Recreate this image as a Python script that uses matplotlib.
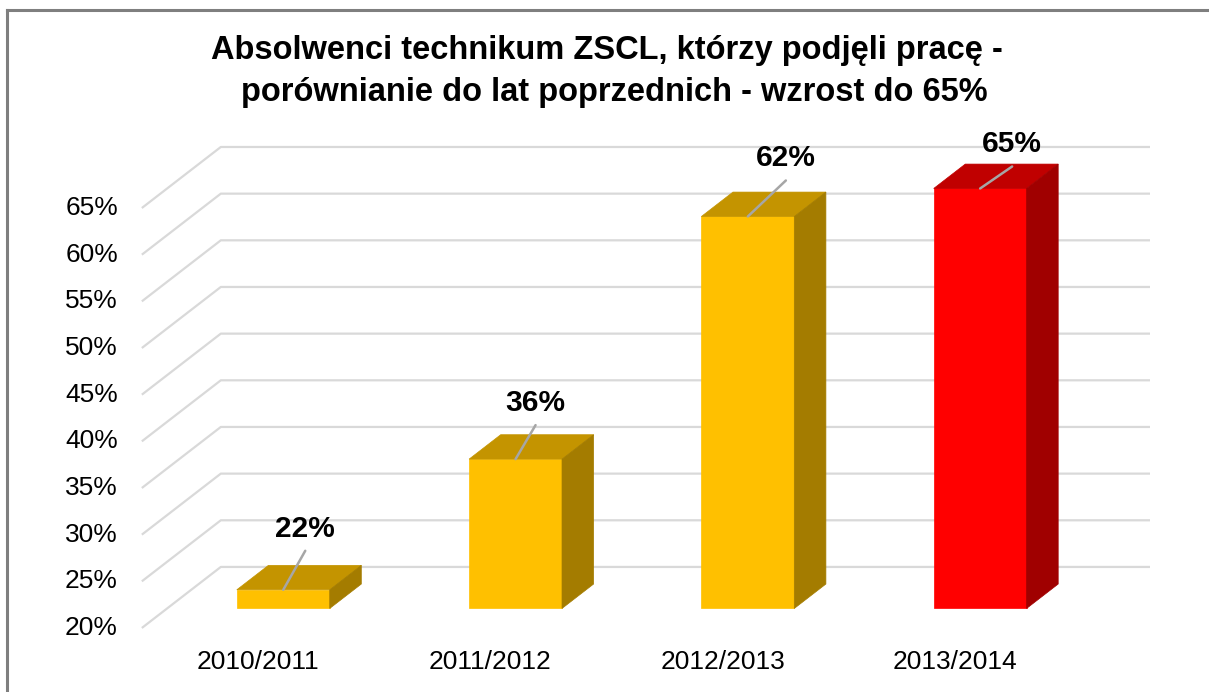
import matplotlib.pyplot as plt
from matplotlib.patches import Polygon
from matplotlib.lines import Line2D

plt.rcParams["font.family"] = ["Liberation Sans", "DejaVu Sans"]

# chart data
years = ["2010/2011", "2011/2012", "2012/2013", "2013/2014"]
shares = [22, 36, 62, 65]
tick_values = [20, 25, 30, 35, 40, 45, 50, 55, 60, 65]
title_lines = [
    "Absolwenci technikum ZSCL, którzy podjęli pracę -",
    "porównianie do lat poprzednich - wzrost do 65%",
]

# styling
front_colors = ["#FFC000", "#FFC000", "#FFC000", "#FF0000"]
top_colors = ["#C49400", "#C49400", "#C49400", "#C00000"]
side_colors = ["#A47C00", "#A47C00", "#A47C00", "#A00000"]
label_offsets = [(22, 61), (20, 56), (38, 58), (32, 44)]  # pixels from bar top

BASE = 20
DEPTH_X, DEPTH_Y = 0.34, 6.54  # full depth of the 3D box, in data units
BAR_WIDTH = 0.4
BAR_FRONT, BAR_DEPTH = 0.32, 0.40  # fractions of full depth
GRID_COLOR = "#D9D9D9"

fig = plt.figure(figsize=(12.09, 6.92), dpi=100)
ax = fig.add_axes([0, 0, 1, 1])
ax.set_xlim(-1.1106, 4.094)
ax.set_ylim(13.14, 87.29)
ax.axis("off")

# floor/back-wall gridlines
for v in tick_values:
    ax.plot([-0.5, -0.5 + DEPTH_X, len(years) - 0.5 + DEPTH_X],
            [v, v + DEPTH_Y, v + DEPTH_Y],
            color=GRID_COLOR, lw=1.6, solid_capstyle="butt", zorder=1)
    ax.text(-0.603, v, f"{v}%", ha="right", va="center", fontsize=19, color="#000000")

# 3D bars
for i, (val, fc, tc, sc) in enumerate(zip(shares, front_colors, top_colors, side_colors)):
    ox, oy = BAR_FRONT * DEPTH_X, BAR_FRONT * DEPTH_Y
    bx, by = BAR_DEPTH * DEPTH_X, BAR_DEPTH * DEPTH_Y
    x0 = i - BAR_WIDTH / 2 + ox
    x1 = i + BAR_WIDTH / 2 + ox
    y0 = BASE + oy
    y1 = val + oy
    front = Polygon([(x0, y0), (x1, y0), (x1, y1), (x0, y1)], closed=True,
                    facecolor=fc, edgecolor=fc, lw=0.5, zorder=3)
    top = Polygon([(x0, y1), (x1, y1), (x1 + bx, y1 + by), (x0 + bx, y1 + by)], closed=True,
                  facecolor=tc, edgecolor=tc, lw=0.5, zorder=3)
    side = Polygon([(x1, y0), (x1 + bx, y0 + by), (x1 + bx, y1 + by), (x1, y1)], closed=True,
                   facecolor=sc, edgecolor=sc, lw=0.5, zorder=3)
    for p in (front, top, side):
        ax.add_patch(p)

    dx, dy = label_offsets[i]
    anchor = ((x0 + x1) / 2, y1)
    ax.annotate("", xy=anchor, xytext=(dx, dy - 22), textcoords="offset pixels",
                arrowprops=dict(arrowstyle="-", color="#A6A6A6", lw=1.8,
                                shrinkA=0, shrinkB=0), zorder=4)
    ax.annotate(f"{val}%", xy=anchor, xytext=(dx, dy), textcoords="offset pixels",
                ha="center", va="center", fontsize=21.5, fontweight="bold", zorder=5)

# category labels
for i, year in enumerate(years):
    ax.text(i, BASE - 3.6, year, ha="center", va="center", fontsize=19)

# title
fig.text(0.502, 1 - 50 / 692, title_lines[0], ha="center", va="center",
         fontsize=23.5, fontweight="bold")
fig.text(0.508, 1 - 92 / 692, title_lines[1], ha="center", va="center",
         fontsize=23.5, fontweight="bold")

# chart-area frame
fig.add_artist(Line2D([7 / 1209, 7 / 1209], [0, 1 - 10 / 692], color="#7F7F7F", lw=2.2))
fig.add_artist(Line2D([7 / 1209, 1], [1 - 10 / 692, 1 - 10 / 692], color="#7F7F7F", lw=2.2))

fig.savefig("out.png", dpi=100)
